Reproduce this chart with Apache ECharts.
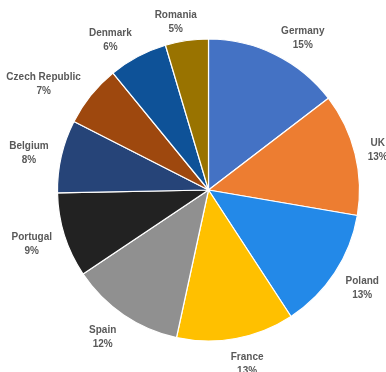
<!DOCTYPE html>
<html>
<head>
<meta charset="utf-8">
<script src="https://cdn.jsdelivr.net/npm/echarts@6/dist/echarts.min.js"></script>
<style>
  html, body { margin: 0; padding: 0; background: #fff; }
  #chart { width: 386px; height: 372px; }
</style>
</head>
<body>
<div id="chart"></div>
<script>
// Share of total by country
const countries = ['Germany', 'UK', 'Poland', 'France', 'Spain', 'Portugal', 'Belgium', 'Czech Republic', 'Denmark', 'Romania'];
const shares = [14.6, 13.1, 13.1, 12.6, 12.2, 9.1, 7.8, 6.6, 6.3, 4.6];
const sliceColors = ['#4472C4', '#ED7D31', '#2389E8', '#FFC000', '#909090', '#222222', '#264478', '#9E480E', '#0E5298', '#997300'];

const CX = 208.5, CY = 190, R = 151, GAP = 11;
const LABEL_FONT = 'bold 10px "Liberation Sans"';
const LINE_H = 14;

// Mid angle of every slice, clockwise from 12 o'clock
const total = shares.reduce((a, b) => a + b, 0);
const midAngles = [];
let acc = 0;
shares.forEach(v => { midAngles.push((acc + v / 2) / total * 2 * Math.PI); acc += v; });

// width of a label block, from its widest line
const measureCtx = document.createElement('canvas').getContext('2d');
measureCtx.font = LABEL_FONT;
const blockWidth = text => Math.max(...text.split('\n').map(s => measureCtx.measureText(s).width));

const chart = echarts.init(document.getElementById('chart'), null, { renderer: 'canvas' });
chart.setOption({
  animation: false,
  series: [{
    type: 'pie',
    center: [CX, CY],
    radius: R,
    startAngle: 90,
    clockwise: true,
    avoidLabelOverlap: false,
    color: sliceColors,
    itemStyle: { borderColor: '#ffffff', borderWidth: 1.2 },
    label: {
      show: true,
      position: 'outside',
      formatter: p => p.name + '\n' + Math.round(p.percent) + '%',
      fontFamily: 'Liberation Sans',
      fontWeight: 'bold',
      fontSize: 10,
      lineHeight: LINE_H,
      color: '#595959',
      align: 'center',
      overflow: 'none',
      width: 120
    },
    labelLine: { show: false },
    // each label sits just beyond the rim, pushed sideways by half its width
    labelLayout: p => {
      const a = midAngles[p.dataIndex];
      const ux = Math.sin(a), uy = -Math.cos(a);
      const w = blockWidth(p.text);
      const h = 2 * LINE_H;
      const sx = Math.sign(ux) * Math.min(1, 3 * Math.abs(ux));
      return {
        x: CX + (R + GAP) * ux + (w / 2) * sx + 2 * Math.sign(ux) * Math.abs(ux),
        y: CY + (R + GAP) * uy + (h / 2) * uy + 1.5 + 5 * Math.max(0, -uy),
        align: 'center',
        verticalAlign: 'middle'
      };
    },
    data: countries.map((n, i) => ({ name: n, value: shares[i] }))
  }]
});
</script>
</body>
</html>
